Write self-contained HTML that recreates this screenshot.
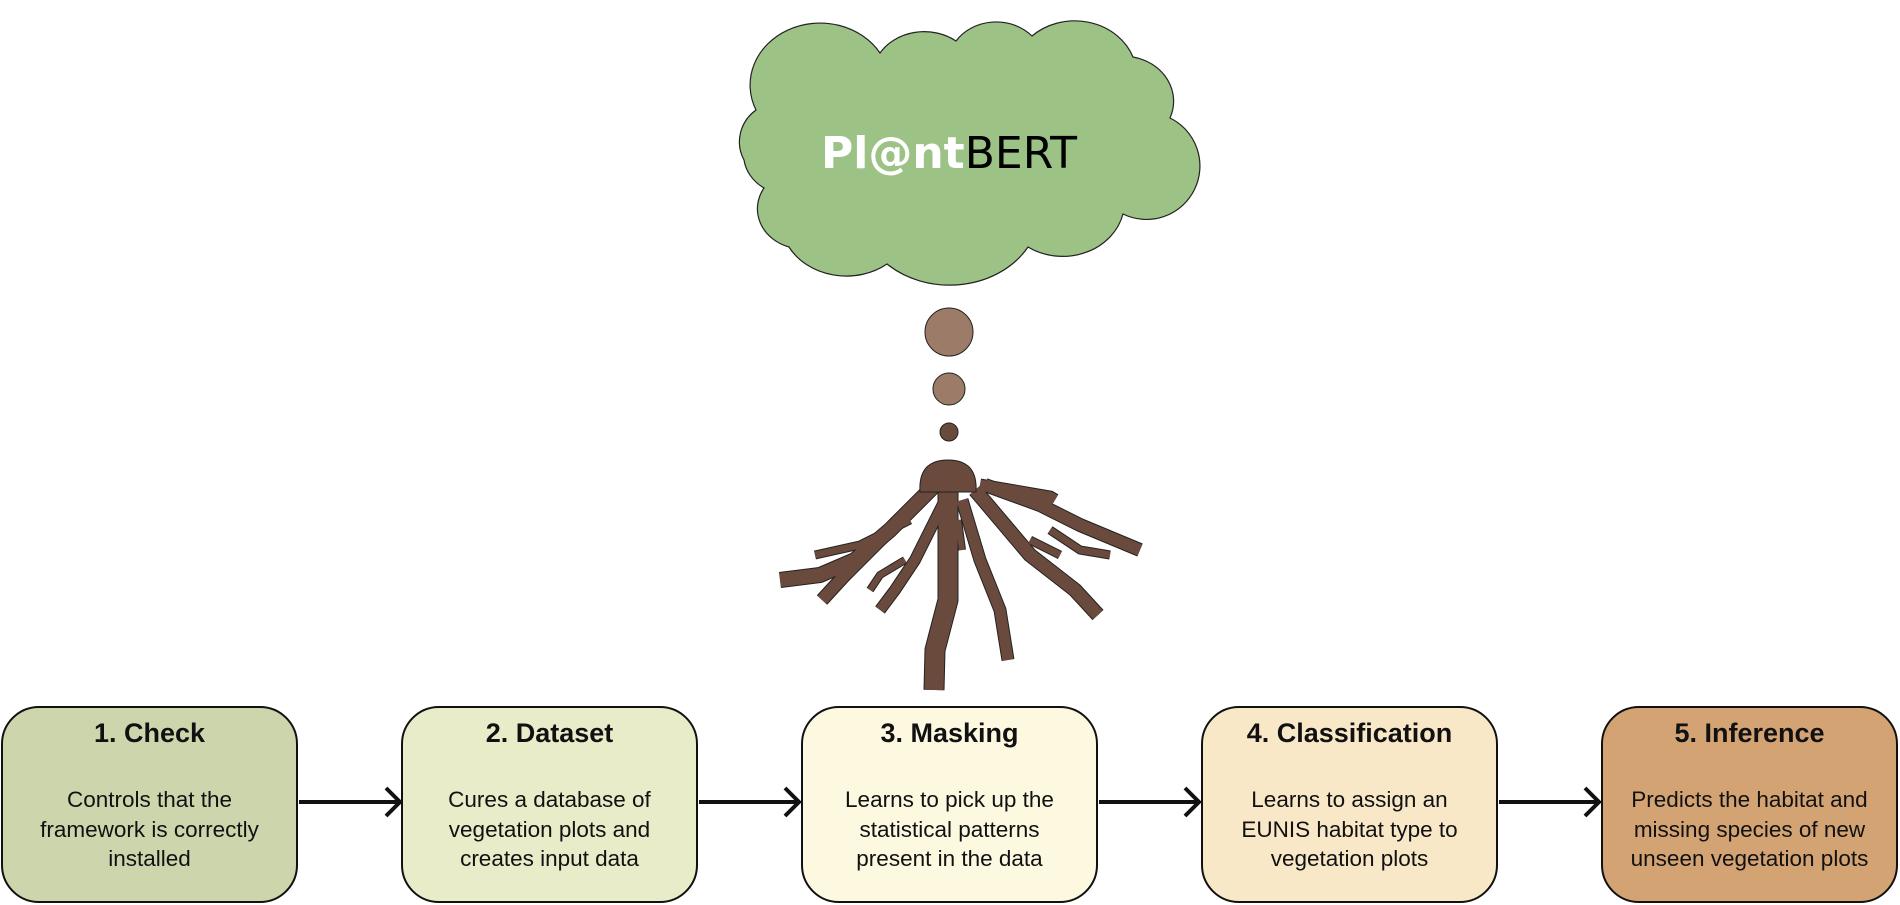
<!DOCTYPE html>
<html><head><meta charset="utf-8"><style>
body{margin:0;width:1900px;height:905px;background:#fff;overflow:hidden;position:relative;font-family:"Liberation Sans",sans-serif}
.box{position:absolute;top:706px;width:293px;height:193px;border:2.5px solid #111;border-radius:38px;text-align:center;box-sizing:content-box}
.box h3{margin:0;margin-top:10px;font-size:27px;font-weight:bold;color:#111}
.box p{margin:0;margin-top:36px;font-size:22.5px;line-height:29.5px;color:#111}
</style></head><body>
<svg width="1900" height="905" style="position:absolute;left:0;top:0">
<path d="M756,110 A70,62 0 0 1 880,53 A52,45 0 0 1 956,41 A48,42 0 0 1 1032,36 A62,55 0 0 1 1133,57 A50,45 0 0 1 1170,118 A52,52 0 0 1 1123,214 A62,55 0 0 1 1028,247 A90,75 0 0 1 887,264 A65,55 0 0 1 789,247 A45,40 0 0 1 764,188 A45,40 0 0 1 744,160 A42,40 0 0 1 756,110 Z" fill="#9dc285" stroke="#222" stroke-width="1.2"/>
<text x="949" y="168" text-anchor="middle" font-family="'DejaVu Sans','Liberation Sans',sans-serif" font-size="44"><tspan fill="#fff" font-weight="bold">Pl@nt</tspan><tspan fill="#000">BERT</tspan></text>
<circle cx="949" cy="332" r="24" fill="#9c7c68" stroke="#222" stroke-width="1"/>
<circle cx="949" cy="389" r="16" fill="#9c7c68" stroke="#222" stroke-width="1"/>
<circle cx="949" cy="432" r="9" fill="#6b4a3e" stroke="#222" stroke-width="1"/>
<g fill="none" stroke-linecap="butt" stroke-linejoin="round">
<g stroke="#222">
<path d="M948,470 L948,600 L935,650 L934,690" stroke-width="21"/>
<path d="M940,480 L890,530 L855,560 L820,575 L780,580" stroke-width="16"/>
<path d="M930,490 L880,540 L845,575 L822,600" stroke-width="14"/>
<path d="M945,500 L915,560 L895,590 L880,610" stroke-width="12"/>
<path d="M962,500 L980,560 L1000,610 L1008,660" stroke-width="13"/>
<path d="M975,490 L1030,555 L1075,590 L1098,615" stroke-width="15"/>
<path d="M985,485 L1040,505 L1080,525 L1140,550" stroke-width="14"/>
<path d="M980,485 L1050,497 L1055,500" stroke-width="13"/>
<path d="M910,520 L860,545 L815,555" stroke-width="9"/>
<path d="M1030,540 L1060,555" stroke-width="9"/>
<path d="M958,520 L962,550" stroke-width="8"/>
<path d="M1050,530 L1080,550 L1110,555" stroke-width="9"/>
<path d="M905,560 L880,575 L870,590" stroke-width="8"/>
</g>
<g stroke="#6b4a3e">
<path d="M948,470 L948,600 L935,650 L934,690" stroke-width="19"/>
<path d="M940,480 L890,530 L855,560 L820,575 L780,580" stroke-width="14"/>
<path d="M930,490 L880,540 L845,575 L822,600" stroke-width="12"/>
<path d="M945,500 L915,560 L895,590 L880,610" stroke-width="10"/>
<path d="M962,500 L980,560 L1000,610 L1008,660" stroke-width="11"/>
<path d="M975,490 L1030,555 L1075,590 L1098,615" stroke-width="13"/>
<path d="M985,485 L1040,505 L1080,525 L1140,550" stroke-width="12"/>
<path d="M980,485 L1050,497 L1055,500" stroke-width="11"/>
<path d="M910,520 L860,545 L815,555" stroke-width="7"/>
<path d="M1030,540 L1060,555" stroke-width="7"/>
<path d="M958,520 L962,550" stroke-width="6"/>
<path d="M1050,530 L1080,550 L1110,555" stroke-width="7"/>
<path d="M905,560 L880,575 L870,590" stroke-width="6"/>
</g>
</g>
<path d="M920,492 Q918,460 948,460 Q978,460 976,492 Z" fill="#6b4a3e" stroke="#222" stroke-width="1"/>
<g stroke="#111" stroke-width="4" fill="none">
<path d="M299,802 L399,802 M386,788 L400,802 L386,816"/>
<path d="M699,802 L798,802 M785,788 L799,802 L785,816"/>
<path d="M1099,802 L1198,802 M1185,788 L1199,802 L1185,816"/>
<path d="M1499,802 L1598,802 M1585,788 L1599,802 L1585,816"/>
</g>
</svg>
<div class="box" style="left:1px;background:#cdd5ad"><h3>1. Check</h3><p>Controls that the<br>framework is correctly<br>installed</p></div>
<div class="box" style="left:401px;background:#e8ecc9"><h3>2. Dataset</h3><p>Cures a database of<br>vegetation plots and<br>creates input data</p></div>
<div class="box" style="left:801px;background:#fdf8e0"><h3>3. Masking</h3><p>Learns to pick up the<br>statistical patterns<br>present in the data</p></div>
<div class="box" style="left:1201px;background:#f8e8c8"><h3>4. Classification</h3><p>Learns to assign an<br>EUNIS habitat type to<br>vegetation plots</p></div>
<div class="box" style="left:1601px;background:#d4a373"><h3>5. Inference</h3><p>Predicts the habitat and<br>missing species of new<br>unseen vegetation plots</p></div>
</body></html>
